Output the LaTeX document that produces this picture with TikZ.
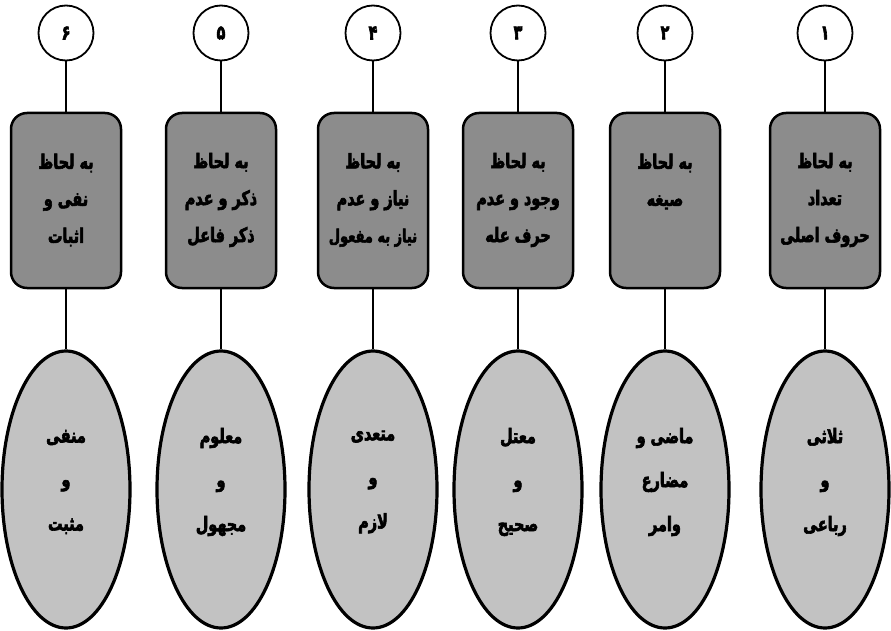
\documentclass[tikz,border=0pt]{standalone}
\usepackage{fontspec}
\TeXXeTstate=1
\newfontfamily\arabicfont[Script=Arabic,FakeBold=3,FakeStretch=0.72]{DejaVu Sans Bold}
\usetikzlibrary{shapes.geometric}
\newcommand{\rl}[1]{\beginR #1\endR}
\begin{document}
\begin{tikzpicture}[x=1pt,y=-1pt,
  numcirc/.style={circle,draw,line width=1.8pt,fill=white,minimum size=55pt,inner sep=0pt,font=\arabicfont\fontsize{20}{20}\selectfont},
  catbox/.style={draw,line width=2.5pt,rounded corners=16pt,fill=black!45,minimum width=110pt,minimum height=175pt,inner sep=0pt},
  boxtext/.style={align=center,anchor=center,inner sep=0pt,font=\arabicfont\fontsize{20}{37}\selectfont},
  typeell/.style={ellipse,draw,line width=3.2pt,fill=black!24,minimum width=128pt,minimum height=277pt,inner sep=0pt},
  elltext/.style={align=center,anchor=center,inner sep=0pt,font=\arabicfont\fontsize{20}{44}\selectfont},
  link/.style={line width=1.8pt}]
\useasboundingbox (0,0) rectangle (891,631);
% circles
\node[numcirc] (c1) at (825,33) {۱};
\node[numcirc] (c2) at (665,33) {۲};
\node[numcirc] (c3) at (518,33) {۳};
\node[numcirc] (c4) at (373,33) {۴};
\node[numcirc] (c5) at (221,33) {۵};
\node[numcirc] (c6) at (66,33) {۶};
% boxes
\node[catbox] (b1) at (825,200.5) {};
\node[catbox] (b2) at (665,200.5) {};
\node[catbox] (b3) at (518,200.5) {};
\node[catbox] (b4) at (373,200.5) {};
\node[catbox] (b5) at (221,200.5) {};
\node[catbox] (b6) at (66,200.5) {};
\node[boxtext] (bt1) at (825,200) {\rl{به لحاظ}\\\rl{تعداد}\\\rl{حروف اصلی}};
\node[boxtext] (bt2) at (665,181.5) {\rl{به لحاظ}\\\rl{صیغه}};
\node[boxtext] (bt3) at (518,200) {\rl{به لحاظ}\\\rl{وجود و عدم}\\\rl{حرف عله}};
\node[boxtext] (bt4) at (373,200) {\rl{به لحاظ}\\\rl{نیاز و عدم}\\{\fontsize{18}{37}\selectfont\rl{نیاز به مفعول}}};
\node[boxtext] (bt5) at (221,200) {\rl{به لحاظ}\\\rl{ذکر و عدم}\\\rl{ذکر فاعل}};
\node[boxtext] (bt6) at (66,200) {\rl{به لحاظ}\\\rl{نفی و}\\\rl{اثبات}};
% ellipses
\node[typeell] (e1) at (825,489.5) {};
\node[typeell] (e2) at (665,489.5) {};
\node[typeell] (e3) at (518,489.5) {};
\node[typeell] (e4) at (373,489.5) {};
\node[typeell] (e5) at (221,489.5) {};
\node[typeell] (e6) at (66,489.5) {};
\node[elltext] (et1) at (825,482) {\rl{ثلاثی}\\\rl{و}\\\rl{رباعی}};
\node[elltext] (et2) at (665,482) {\rl{ماضی و}\\\rl{مضارع}\\\rl{وامر}};
\node[elltext] (et3) at (518,482) {\rl{معتل}\\\rl{و}\\\rl{صحیح}};
\node[elltext] (et4) at (373,482) {\rl{متعدی}\\\rl{و}\\\rl{لازم}};
\node[elltext] (et5) at (221,482) {\rl{معلوم}\\\rl{و}\\\rl{مجهول}};
\node[elltext] (et6) at (66,482) {\rl{منفی}\\\rl{و}\\\rl{مثبت}};
% links
\foreach \i in {1,...,6}{
  \draw[link] (c\i) -- (b\i);
  \draw[link] (b\i) -- (e\i);
}
\end{tikzpicture}
\end{document}
